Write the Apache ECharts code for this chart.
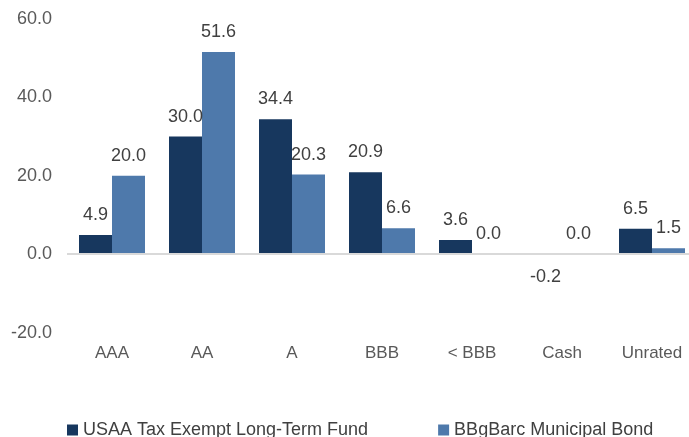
<!DOCTYPE html>
<html>
<head>
<meta charset="utf-8">
<script src="https://cdn.jsdelivr.net/npm/echarts@6/dist/echarts.min.js"></script>
<style>
  html, body { margin: 0; padding: 0; background: #fff; }
  #chart { width: 689px; height: 437px; }
</style>
</head>
<body>
<div id="chart"></div>
<script>
// credit quality breakdown (%)
var categories = ['AAA', 'AA', 'A', 'BBB', '< BBB', 'Cash', 'Unrated']
var fundName = 'USAA Tax Exempt Long-Term Fund'
var benchName = 'BBgBarc Municipal Bond'
var fundValues = [4.9, 30.0, 34.4, 20.9, 3.6, -0.2, 6.5]
var benchValues = [20.0, 51.6, 20.3, 6.6, 0.0, 0.0, 1.5]
var yMin = -20
var yMax = 60
var yStep = 20

var FONT = 'Liberation Sans, Arial, sans-serif'

// negative bars get their label underneath
function withLabels (values) {
  return values.map(function (v) {
    return v < 0
      ? { value: v, label: { position: 'bottom', distance: 13 } }
      : { value: v }
  })
}

var labelStyle = {
  show: true,
  position: 'top',
  distance: 11,
  fontFamily: FONT,
  fontSize: 18,
  color: '#404040',
  formatter: function (p) { return p.value.toFixed(1) }
}

var chart = echarts.init(document.getElementById('chart'))
chart.setOption({
  animation: false,
  textStyle: { fontFamily: FONT },
  grid: { left: 67, top: 19, width: 630, height: 313.6, outerBoundsMode: 'none', containLabel: false },
  legend: {
    left: 62,
    top: 416,
    itemWidth: 11,
    itemHeight: 11,
    itemGap: 70,
    icon: 'rect',
    textStyle: { fontFamily: FONT, fontSize: 18, color: '#404040' },
    data: [fundName, benchName]
  },
  xAxis: {
    type: 'category',
    data: categories,
    axisLine: { show: false, onZero: false },
    axisTick: { show: false },
    axisLabel: { margin: 12, fontFamily: FONT, fontSize: 17, color: '#595959' }
  },
  yAxis: {
    type: 'value',
    min: yMin,
    max: yMax,
    interval: yStep,
    splitLine: { show: false },
    axisLine: { show: false },
    axisTick: { show: false },
    axisLabel: {
      margin: 15,
      fontFamily: FONT,
      fontSize: 18,
      color: '#595959',
      formatter: function (v) { return v.toFixed(1) }
    }
  },
  series: [
    {
      name: fundName,
      type: 'bar',
      barWidth: 33,
      barGap: '0%',
      itemStyle: { color: '#17375E' },
      label: labelStyle,
      data: withLabels(fundValues),
      markLine: {
        silent: true,
        symbol: 'none',
        label: { show: false },
        lineStyle: { color: '#D9D9D9', width: 2, type: 'solid' },
        data: [{ yAxis: 0 }]
      }
    },
    {
      name: benchName,
      type: 'bar',
      barWidth: 33,
      itemStyle: { color: '#4E79AB' },
      label: labelStyle,
      data: withLabels(benchValues)
    }
  ]
})
</script>
</body>
</html>
